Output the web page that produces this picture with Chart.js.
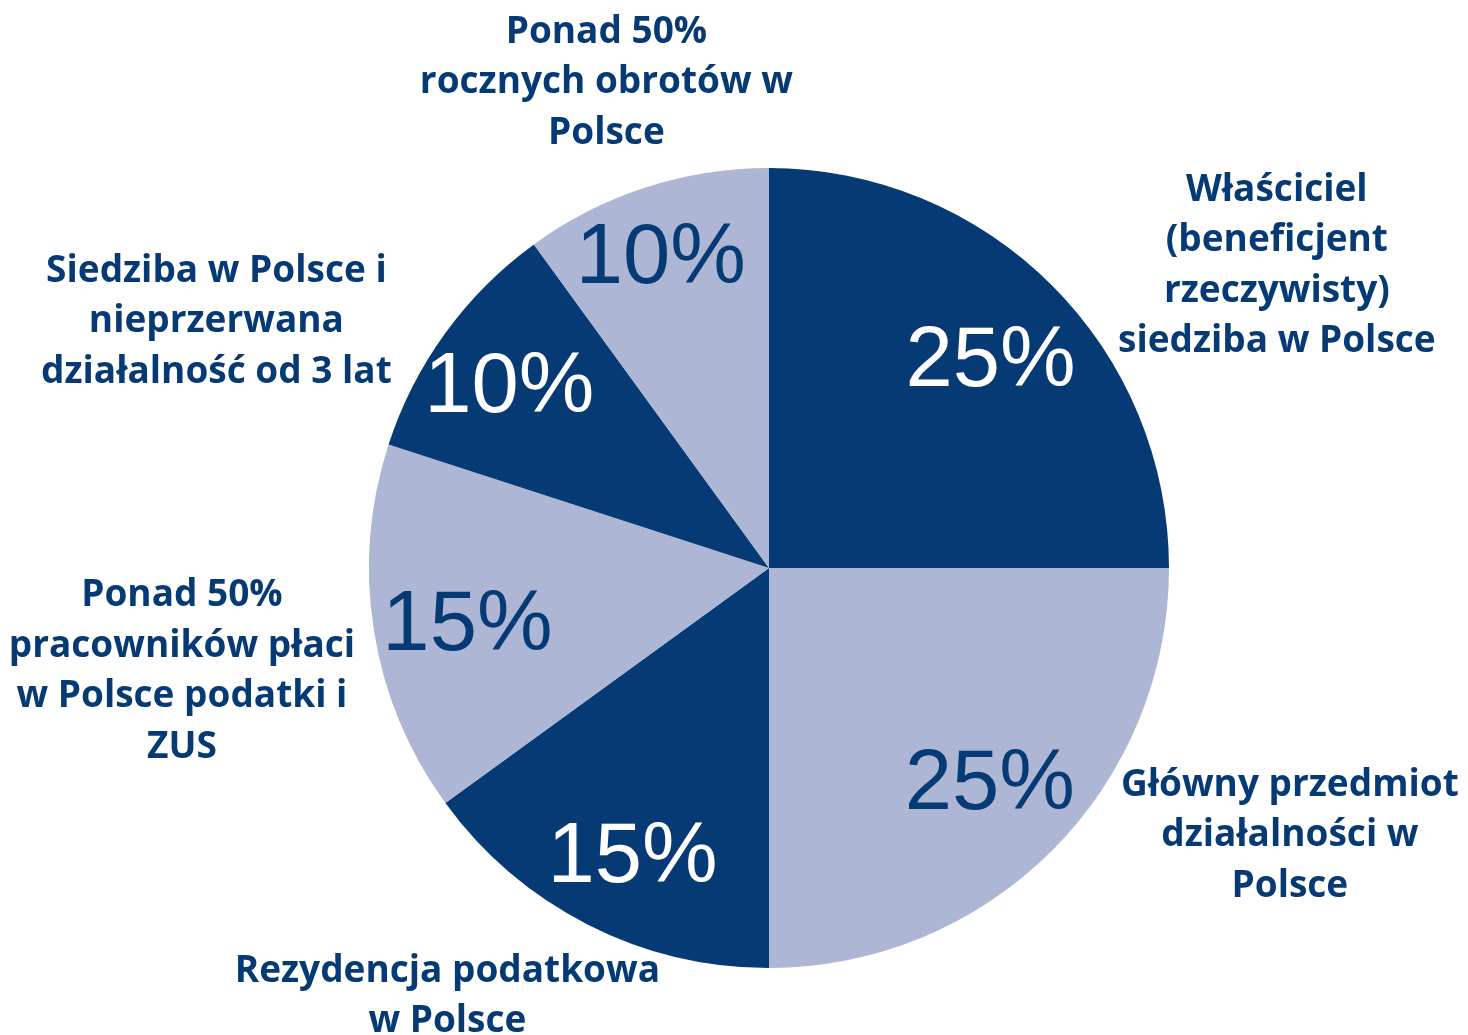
<!DOCTYPE html>
<html>
<head>
<meta charset="utf-8">
<script src="https://cdn.jsdelivr.net/npm/chart.js@4.4.0/dist/chart.umd.min.js"></script>
<style>
  html, body { margin: 0; padding: 0; background: #fff; }
  #wrap { width: 1468px; height: 1035px; }
</style>
</head>
<body>
<div id="wrap"><canvas id="pie"></canvas></div>
<script>
// categories (already wrapped the way the picture shows them)
var categories = [
    ["Właściciel", "(beneficjent", "rzeczywisty)", "siedziba w Polsce"],
    ["Główny przedmiot", "działalności w", "Polsce"],
    ["Rezydencja podatkowa", "w Polsce"],
    ["Ponad 50%", "pracowników płaci", "w Polsce podatki i", "ZUS"],
    ["Siedziba w Polsce i", "nieprzerwana", "działalność od 3 lat"],
    ["Ponad 50%", "rocznych obrotów w", "Polsce"]
];
var values = [25, 25, 15, 15, 10, 10];

var dark = '#063a74';
var light = '#adb6d4';
var sliceColors = [dark, light, dark, light, dark, light];
var valueColors = ['#ffffff', dark, '#ffffff', dark, '#ffffff', dark];

// value label placement: fraction of radius and small angle tweak (deg)
var valueRadius = [0.767, 0.766, 0.788, 0.761, 0.794, 0.830];
var valueTurn = [1.4, -1.3, -1.7, -0.9, -0.3, -0.7];
// where each outer label block sits, relative to the arc edge at mid-angle
var labelNudge = [[225, -19], [238, -15], [-140, 72], [-192, 41], [-229, -11], [-39, -105]];

var labelsPlugin = {
    id: 'pieLabels',
    afterDatasetsDraw: function (chart) {
        var ctx = chart.ctx;
        var meta = chart.getDatasetMeta(0);
        var total = values.reduce(function (a, b) { return a + b; }, 0);
        ctx.save();
        meta.data.forEach(function (arc, i) {
            var p = arc.getProps(['x', 'y', 'startAngle', 'endAngle', 'outerRadius'], true);
            var mid = (p.startAngle + p.endAngle) / 2;
            // value inside the slice, centred on its ink
            var a = mid + valueTurn[i] * Math.PI / 180;
            var r1 = p.outerRadius * valueRadius[i];
            var cx = p.x + Math.cos(a) * r1;
            var cy = p.y + Math.sin(a) * r1;
            var txt = Math.round(values[i] / total * 100) + '%';
            ctx.font = '85px "Liberation Sans", Arial, sans-serif';
            ctx.textAlign = 'left';
            ctx.textBaseline = 'alphabetic';
            var m = ctx.measureText(txt);
            ctx.fillStyle = valueColors[i];
            ctx.fillText(txt,
                cx - (m.actualBoundingBoxRight - m.actualBoundingBoxLeft) / 2,
                cy + (m.actualBoundingBoxAscent - m.actualBoundingBoxDescent) / 2);
            // category outside
            var ax = p.x + Math.cos(mid) * p.outerRadius + labelNudge[i][0];
            var ay = p.y + Math.sin(mid) * p.outerRadius + labelNudge[i][1];
            var lines = categories[i];
            var lh = 50.5;
            ctx.font = 'bold 37px "Open Sans", sans-serif';
            ctx.textAlign = 'center';
            ctx.textBaseline = 'middle';
            ctx.fillStyle = dark;
            lines.forEach(function (t, k) {
                ctx.fillText(t, ax, ay + (k - (lines.length - 1) / 2) * lh);
            });
        });
        ctx.restore();
    }
};

var ctx = document.getElementById('pie').getContext('2d');
var chart = new Chart(ctx, {
    type: 'pie',
    data: {
        labels: categories.map(function (c) { return c.join(' '); }),
        datasets: [{
            data: values,
            backgroundColor: sliceColors,
            borderWidth: 0
        }]
    },
    options: {
        responsive: true,
        maintainAspectRatio: false,
        animation: false,
        layout: { padding: { left: 369, right: 299, top: 168, bottom: 67 } },
        plugins: {
            legend: { display: false },
            tooltip: { enabled: false }
        }
    },
    plugins: [labelsPlugin]
});
</script>
</body>
</html>
